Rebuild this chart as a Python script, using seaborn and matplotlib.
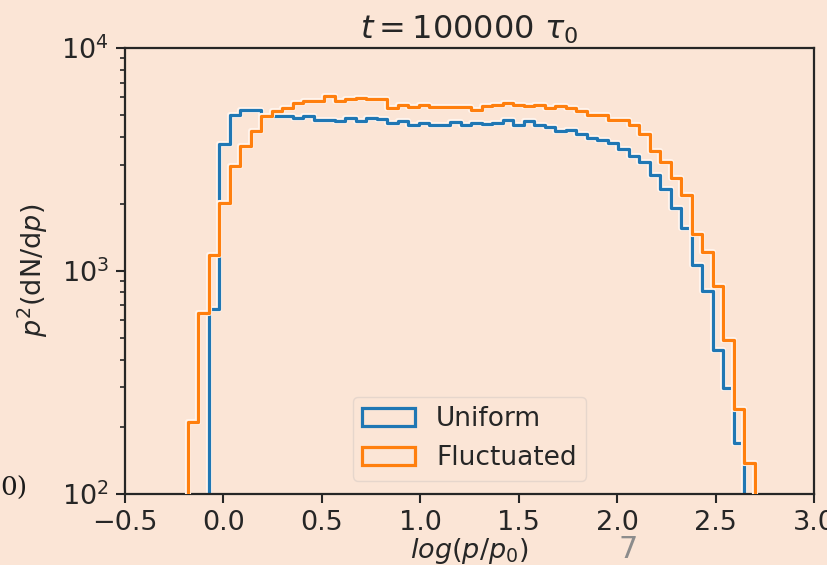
import numpy as np
import pandas as pd
import matplotlib
matplotlib.use("Agg")
import matplotlib.pyplot as plt
import matplotlib.patheffects as pe
from matplotlib.patches import Patch
import seaborn as sns

# === 1. Data: p^2 dN/dp per log(p/p0) bin ===
bin_lo, bin_hi, n_bins = -0.18, 2.70, 54

fluctuated = [
    210, 646, 1181, 2018, 2946, 3624, 4231, 4943, 5204, 5394,
    5678, 5814, 5814, 6120, 5780, 5875, 5978, 5875, 5875, 5394,
    5540, 5426, 5540, 5426, 5426, 5426, 5426, 5297, 5486, 5540,
    5678, 5540, 5480, 5540, 5394, 5480, 5360, 5204, 5030, 4980,
    4777, 4777, 4500, 4130, 3440, 3090, 2612, 2190, 1460, 1210,
    855, 490, 239, 138,
]

uniform_first_bin = 2
uniform = [
    673, 3715, 5030, 5297, 5297, 4943, 4943, 4943, 4830, 4943,
    4777, 4777, 4720, 4860, 4700, 4860, 4800, 4600, 4700, 4520,
    4600, 4520, 4500, 4650, 4520, 4620, 4560, 4600, 4750, 4530,
    4720, 4530, 4400, 4231, 4300, 4093, 3950, 3850, 3750, 3520,
    3280, 3070, 2700, 2330, 1914, 1556, 1065, 808, 442, 297,
    169,
]

series_names = ["Uniform", "Fluctuated"]
series_colors = ["#1f77b4", "#ff7f0e"]

# === 2. Build long table for seaborn ===
width = (bin_hi - bin_lo) / n_bins
centers = bin_lo + (np.arange(n_bins) + 0.5) * width
# one empty bin on each side so the outline drops back to the axis
edges = np.linspace(bin_lo - width, bin_hi + width, n_bins + 3).tolist()

df = pd.concat([
    pd.DataFrame({
        "x": centers[uniform_first_bin:uniform_first_bin + len(uniform)],
        "w": uniform,
        "run": "Uniform",
    }),
    pd.DataFrame({"x": centers, "w": fluctuated, "run": "Fluctuated"}),
], ignore_index=True)

# === 3. Style ===
bg = "#fbe5d6"
sns.set_style("ticks", rc={"axes.facecolor": bg, "figure.facecolor": bg})
plt.rcParams.update({
    "font.family": ["DejaVu Sans"],
    "font.size": 19.5,
    "axes.linewidth": 1.6,
    "xtick.major.size": 6.5, "ytick.major.size": 6.5,
    "xtick.major.width": 1.5, "ytick.major.width": 1.5,
    "ytick.minor.size": 3.8, "ytick.minor.width": 1.2,
    "xtick.major.pad": 5, "ytick.major.pad": 5,
})

fig = plt.figure(figsize=(8.27, 5.65), dpi=100)
ax = fig.add_axes([0.1511, 0.1262, 0.8332, 0.7888])

# === 4. Step histograms ===
sns.histplot(
    data=df, x="x", weights="w", hue="run",
    hue_order=series_names, palette=series_colors,
    bins=edges, element="step", fill=False, linewidth=2.3,
    legend=False, ax=ax,
)

halo = [pe.Stroke(linewidth=4.4, foreground="#fff4ec"), pe.Normal()]
for line in ax.lines:
    line.set_path_effects(halo)
    # fluctuated outline sits on top of uniform
    if matplotlib.colors.to_hex(line.get_color()) == series_colors[1]:
        line.set_zorder(3)

ax.set_yscale("log")
ax.set_ylim(1e2, 1e4)
ax.set_xlim(-0.5, 3.0)
ax.set_xticks(np.arange(-0.5, 3.01, 0.5))
for side in ["top", "right"]:
    ax.spines[side].set_visible(True)

ax.set_title(r"$t = 100000\ \tau_0$", fontsize=23, pad=7)
ax.set_xlabel(r"$log(p/p_0)$", fontsize=19.5, labelpad=0)
ax.set_ylabel(r"$p^2$(dN/d$p$)", fontsize=19.5, labelpad=8)
ax.tick_params(labelsize=19.5)

handles = [Patch(facecolor="none", edgecolor=c, linewidth=2.3) for c in series_colors]
leg = ax.legend(handles, series_names, loc="lower center", fontsize=19,
                frameon=True, borderaxespad=0.5, handletextpad=0.8,
                borderpad=0.35)
leg.get_frame().set_facecolor(bg)
leg.get_frame().set_edgecolor("#e6d6cc")
leg.get_frame().set_alpha(1)

# leftovers from the slide around the chart
fig.text(0.0, 1 - 496 / 565, "0)", family=["DejaVu Serif", "DejaVu Sans"],
         fontsize=19, va="baseline", ha="left", color="#1a1a1a")
fig.text(628 / 827, 1 - 558 / 565, "7", fontsize=22, color="#8c8c8c",
         ha="center", va="baseline")

plt.savefig("out.png", dpi=100, facecolor=bg)
plt.close()
